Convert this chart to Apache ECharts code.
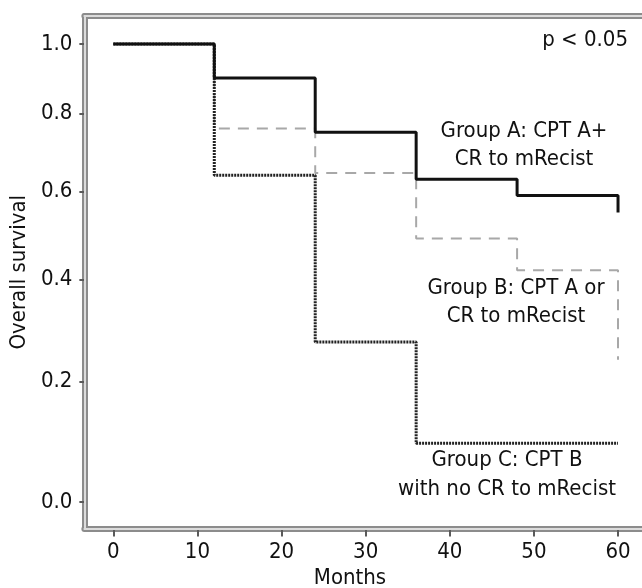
<!DOCTYPE html>
<html>
<head>
<meta charset="utf-8">
<script src="https://cdn.jsdelivr.net/npm/echarts@6/dist/echarts.min.js"></script>
<style>
html,body{margin:0;padding:0;background:#fff;}
#chart{width:642px;height:588px;}
</style>
</head>
<body>
<div id="chart"></div>
<script>
// ---- data ----
const monthsA = [0, 12, 24, 36, 48, 60];
const survivalA = [1.0, 0.90, 0.75, 0.63, 0.59, 0.55];
const monthsB = [0, 12, 24, 36, 48, 60];
const survivalB = [1.0, 0.76, 0.645, 0.49, 0.42, 0.24];
const monthsC = [0, 12, 24, 36, 60];
const survivalC = [1.0, 0.64, 0.274, 0.093, 0.093];
const xTicks = [0, 10, 20, 30, 40, 50, 60];
const yTicks = [0.0, 0.2, 0.4, 0.6, 0.8, 1.0];
const seriesNames = ['Group A', 'Group B', 'Group C'];

// The survival axis of the original is logarithmic in (1 + S):
// values are plotted on a log axis after adding this offset.
const SURV_OFFSET = 1;
const toPts = (ms, vs) => ms.map((m, i) => [m, vs[i] + SURV_OFFSET]);

const FONT = 'DejaVu Sans Condensed';
const FS = 22;
const frameDark = '#8c8c8c';
const frameLight = '#dcdcdc';
const textFont = FS + 'px "' + FONT + '"';

const chart = echarts.init(document.getElementById('chart'));
const lightAxisX = (pos) => ({
  type: 'value', position: pos, min: 0, max: 1, z: 3,
  axisLine: {show: true, onZero: false, lineStyle: {color: frameLight, width: 2}},
  axisTick: {show: false}, axisLabel: {show: false}, splitLine: {show: false}
});
const darkAxisX = (pos) => ({
  type: 'value', position: pos, min: 0, max: 1, z: 1,
  axisLine: {show: true, onZero: false, lineStyle: {color: frameDark, width: 6}},
  axisTick: {show: false}, axisLabel: {show: false}, splitLine: {show: false}
});

chart.setOption({
  animation: false,
  backgroundColor: '#fff',
  grid: {left: 84, right: 0, top: 16, bottom: 59.5, containLabel: false},
  xAxis: [
    {
      type: 'value', position: 'bottom', min: -3.445, max: 62.85, z: 1,
      axisLine: {show: true, onZero: false, lineStyle: {color: frameDark, width: 6}},
      axisTick: {show: true, customValues: xTicks, length: 8, lineStyle: {color: '#5a5a5a', width: 2}},
      axisLabel: {show: true, customValues: xTicks, margin: 13, color: '#111', fontFamily: FONT, fontSize: FS},
      splitLine: {show: false}
    },
    lightAxisX('bottom'),
    darkAxisX('top'),
    lightAxisX('top')
  ],
  yAxis: [
    {
      type: 'log', logBase: 10, position: 'left', min: 0.9607, max: 2.0866, z: 1,
      axisLine: {show: true, onZero: false, lineStyle: {color: frameDark, width: 6}},
      axisTick: {show: true, customValues: yTicks.map(v => v + SURV_OFFSET), length: 5, lineStyle: {color: '#5a5a5a', width: 2}},
      axisLabel: {
        show: true, customValues: yTicks.map(v => v + SURV_OFFSET), margin: 12,
        color: '#111', fontFamily: FONT, fontSize: FS,
        formatter: (v) => (v - SURV_OFFSET).toFixed(1)
      },
      splitLine: {show: false},
      name: 'Overall survival', nameLocation: 'middle', nameGap: 54, nameRotate: 90,
      nameTextStyle: {color: '#111', fontFamily: FONT, fontSize: FS}
    },
    {
      type: 'value', position: 'left', min: 0, max: 1, z: 3,
      axisLine: {show: true, onZero: false, lineStyle: {color: frameLight, width: 2}},
      axisTick: {show: false}, axisLabel: {show: false}, splitLine: {show: false}
    }
  ],
  series: [
    {
      name: seriesNames[1], type: 'line', step: 'end', symbol: 'none', z: 4,
      xAxisIndex: 0, yAxisIndex: 0,
      data: toPts(monthsB, survivalB),
      lineStyle: {color: '#a8a8a8', width: 2, type: [11, 8]}
    },
    {
      name: seriesNames[2], type: 'line', step: 'end', symbol: 'none', z: 5,
      xAxisIndex: 0, yAxisIndex: 0,
      data: toPts(monthsC, survivalC),
      lineStyle: {color: '#222', width: 3, type: [2, 1]}
    },
    {
      name: seriesNames[0], type: 'line', step: 'end', symbol: 'none', z: 6,
      xAxisIndex: 0, yAxisIndex: 0,
      data: toPts(monthsA, survivalA),
      lineStyle: {color: '#111', width: 3, type: 'solid'}
    }
  ],
  graphic: [
    {type: 'text', x: 628, y: 40, style: {text: 'p < 0.05', fill: '#111', font: textFont, align: 'right', verticalAlign: 'middle'}},
    {type: 'text', x: 524, y: 145, style: {text: 'Group A: CPT A+\nCR to mRecist', fill: '#111', font: textFont, align: 'center', verticalAlign: 'middle', lineHeight: 28}},
    {type: 'text', x: 516, y: 302, style: {text: 'Group B: CPT A or\nCR to mRecist', fill: '#111', font: textFont, align: 'center', verticalAlign: 'middle', lineHeight: 28}},
    {type: 'text', x: 507, y: 475, style: {text: 'Group C: CPT B\nwith no CR to mRecist', fill: '#111', font: textFont, align: 'center', verticalAlign: 'middle', lineHeight: 29}},
    {type: 'text', x: 350, y: 578, style: {text: 'Months', fill: '#111', font: textFont, align: 'center', verticalAlign: 'middle'}}
  ]
});
</script>
</body>
</html>
